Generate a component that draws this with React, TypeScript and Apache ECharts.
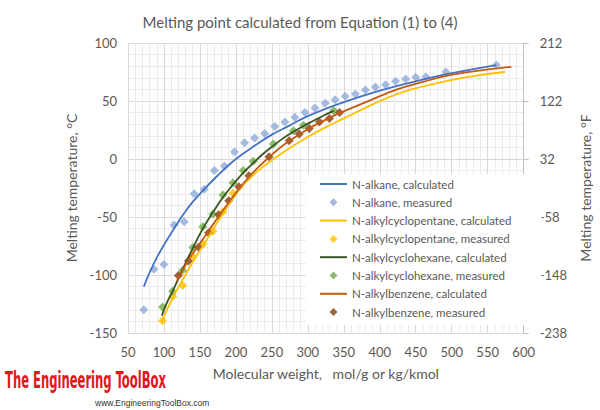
import React, { useEffect, useRef } from "react";
import * as echarts from "echarts";

// Molecular weights (g/mol) and melting temperatures (°C)
const alkaneMeasuredMw = [72, 86, 100, 114, 128, 142, 156, 170, 184, 198, 212, 226, 240, 254, 268, 282, 296, 310, 324, 338, 352, 366, 380, 394, 408, 422, 436, 450, 464, 492, 562];
const alkaneMeasuredT = [-130, -95, -91, -57, -54, -30, -26, -10, -6, 6, 14, 18, 22, 28, 32, 36, 40, 44, 48, 51, 54, 56, 59.5, 62, 64, 67, 69, 70.5, 71, 75, 81];
const alkaneCalcMw = [72, 80, 90, 100, 110, 120, 130, 140, 150, 175, 200, 225, 250, 275, 300, 350, 400, 450, 500, 562];
const alkaneCalcT = [-110, -98, -85, -74, -64, -54, -45, -37, -30, -14, 0, 11, 21, 29, 37, 49, 59, 67, 74, 81];

const cpMeasuredMw = [98, 112, 126, 140, 154, 168, 182, 196];
const cpMeasuredT = [-139.5, -118.5, -109, -83.7, -73.5, -62.2, -45.5, -29.6];
const cpCalcMw = [97, 105, 112, 126, 140, 154, 168, 182, 196, 210, 231, 250, 276, 300, 325, 350, 388, 424, 460, 491, 530, 574];
const cpCalcT = [-140, -129, -120, -104, -89, -75, -61, -47, -34, -22.5, -10, -1, 10, 19, 27.5, 35, 46.5, 56, 62.5, 67, 71.5, 75];

const chMeasuredMw = [98, 112, 126, 140, 154, 168, 182, 196, 210, 224, 252, 280, 294, 336];
const chMeasuredT = [-127.6, -114, -96, -76.3, -58.5, -47.5, -31, -20.5, -10, -2, 13, 24.3, 29.2, 41.6];
const chCalcMw = [97, 104, 112, 126, 140, 154, 168, 182, 196, 210, 224, 238, 252, 266, 280, 294, 308, 322, 336];
const chCalcT = [-135, -124, -114, -95, -77, -60, -46, -33, -22, -12, -3.5, 4.5, 11.5, 18, 23.5, 28.5, 33, 37.5, 41.5];

const bzMeasuredMw = [120, 134, 148, 162, 176, 190, 204, 218, 246, 274, 288, 302, 316, 330, 344];
const bzMeasuredT = [-100.4, -88, -76, -63.5, -48, -36, -24, -14.5, 2, 15.8, 21.5, 26.3, 32, 35, 40];
const bzCalcMw = [118, 126, 134, 148, 162, 176, 190, 204, 218, 232, 246, 260, 274, 288, 302, 316, 330, 344, 388, 424, 460, 491, 530, 583];
const bzCalcT = [-105, -96, -87, -74.5, -62, -49.5, -37.5, -26, -15.5, -6.5, 1.5, 9, 15.5, 21, 26.5, 31, 35.5, 39.5, 51, 60, 66.5, 71.5, 75.5, 79.5];

const xTicks = { min: 50, max: 600, step: 50 };
const yTicks = { min: -150, max: 100, step: 50 };

const pairs = (xs: number[], ys: number[]) => xs.map((x, i) => [x, ys[i]]);
const toF = (c: number) => Math.round(c * 1.8 + 32);

const FONT = "Lato, 'Open Sans', sans-serif";
const GREY = "#595959";
// Legend icons: a thin bar for the fitted curves, a small diamond (padded to the
// full icon box so it is not stretched) for the measured points.
const LINE_ICON = "path://M0,0 L27,0 L27,2 L0,2 Z";
const DIAMOND_ICON = "path://M0,0 L0,0 Z M27,8 L27,8 Z M13.5,0 L17.5,4 L13.5,8 L9.5,4 Z";

export default function App() {
  const ref = useRef<HTMLDivElement>(null);

  useEffect(() => {
    if (!ref.current) return;
    document.body.style.margin = "0";
    const chart = echarts.init(ref.current, undefined, { renderer: "svg" });

    const calc = (name: string, xs: number[], ys: number[], color: string) => ({
      name,
      type: "line",
      data: pairs(xs, ys),
      smooth: 0.4,
      symbol: "none",
      lineStyle: { color, width: 1.8 },
      itemStyle: { color },
    });
    const meas = (name: string, xs: number[], ys: number[], color: string) => ({
      name,
      type: "scatter",
      data: pairs(xs, ys),
      symbol: "diamond",
      symbolSize: 9,
      itemStyle: { color },
    });

    const series = [
      calc("N-alkane, calculated", alkaneCalcMw, alkaneCalcT, "#4472c4"),
      meas("N-alkane, measured", alkaneMeasuredMw, alkaneMeasuredT, "#8eaadb"),
      calc("N-alkylcyclopentane, calculated", cpCalcMw, cpCalcT, "#ffc000"),
      meas("N-alkylcyclopentane, measured", cpMeasuredMw, cpMeasuredT, "#ffc000"),
      calc("N-alkylcyclohexane, calculated", chCalcMw, chCalcT, "#375623"),
      meas("N-alkylcyclohexane, measured", chMeasuredMw, chMeasuredT, "#70ad47"),
      calc("N-alkylbenzene, calculated", bzCalcMw, bzCalcT, "#c55a11"),
      meas("N-alkylbenzene, measured", bzMeasuredMw, bzMeasuredT, "#843c0c"),
    ];

    chart.setOption({
      animation: false,
      backgroundColor: "#ffffff",
      textStyle: { fontFamily: FONT },
      title: {
        text: "Melting point calculated from Equation (1) to (4)",
        left: "center",
        top: 9,
        textStyle: { fontFamily: FONT, fontSize: 15, fontWeight: "normal", color: GREY },
      },
      grid: { left: 128, right: 63, top: 43, bottom: 77 },
      legend: {
        orient: "vertical",
        left: 306,
        top: 174,
        itemWidth: 27,
        itemHeight: 8,
        itemGap: 4.3,
        padding: [3, 30, 6, 14],
        backgroundColor: "#ffffff",
        textStyle: { fontFamily: FONT, fontSize: 11.5, color: GREY, lineHeight: 14 },
        data: series.map((s) => ({
          name: s.name,
          icon: s.type === "line" ? LINE_ICON : DIAMOND_ICON,
        })),
      },
      xAxis: {
        type: "value",
        min: xTicks.min,
        max: xTicks.max,
        interval: xTicks.step,
        name: "Molecular weight,   mol/g or kg/kmol",
        nameLocation: "middle",
        nameGap: 33,
        nameTextStyle: { fontFamily: FONT, fontSize: 14, color: GREY },
        axisLine: { show: true, lineStyle: { color: "#d9d9d9" } },
        axisTick: { show: false },
        axisLabel: { fontFamily: FONT, fontSize: 13, color: GREY, margin: 12 },
        splitLine: { show: true, lineStyle: { color: "#d9d9d9" } },
        minorTick: { show: false, splitNumber: 5 },
        minorSplitLine: { show: true, lineStyle: { color: "#ebebeb" } },
      },
      yAxis: [
        {
          type: "value",
          min: yTicks.min,
          max: yTicks.max,
          interval: yTicks.step,
          name: "Melting temperature, °C",
          nameLocation: "middle",
          nameGap: 42,
          nameTextStyle: { fontFamily: FONT, fontSize: 14, color: GREY },
          axisLine: { show: false },
          axisTick: { show: false },
          axisLabel: { fontFamily: FONT, fontSize: 13, color: GREY, margin: 11 },
          splitLine: { show: true, lineStyle: { color: "#d9d9d9" } },
          minorTick: { show: false, splitNumber: 5 },
          minorSplitLine: { show: true, lineStyle: { color: "#ebebeb" } },
        },
        {
          type: "value",
          position: "right",
          min: yTicks.min,
          max: yTicks.max,
          interval: yTicks.step,
          name: "Melting temperature, °F",
          nameLocation: "middle",
          nameGap: 52,
          nameTextStyle: { fontFamily: FONT, fontSize: 14, color: GREY },
          axisLine: { show: true, lineStyle: { color: "#bfbfbf" } },
          axisTick: { show: true, inside: false, length: 5, lineStyle: { color: "#bfbfbf" } },
          axisLabel: { fontFamily: FONT, fontSize: 13, color: GREY, margin: 16, formatter: (v: number) => String(toF(v)) },
          splitLine: { show: false },
        },
      ],
      series,
      graphic: [
        {
          type: "text",
          x: 5,
          y: 368,
          scaleX: 0.56,
          style: {
            text: "The Engineering ToolBox",
            fontFamily: "'DejaVu Sans Condensed', 'DejaVu Sans', sans-serif",
            fontWeight: "bold",
            fontSize: 23,
            fill: "#e3161c",
          },
        },
        {
          type: "text",
          x: 95,
          y: 398,
          style: {
            text: "www.EngineeringToolBox.com",
            fontFamily: "'Liberation Sans Narrow', Arial, sans-serif",
            fontSize: 8.5,
            fill: "#333333",
          },
        },
      ],
    });

    return () => chart.dispose();
  }, []);

  return <div ref={ref} style={{ width: 600, height: 410 }} />;
}
